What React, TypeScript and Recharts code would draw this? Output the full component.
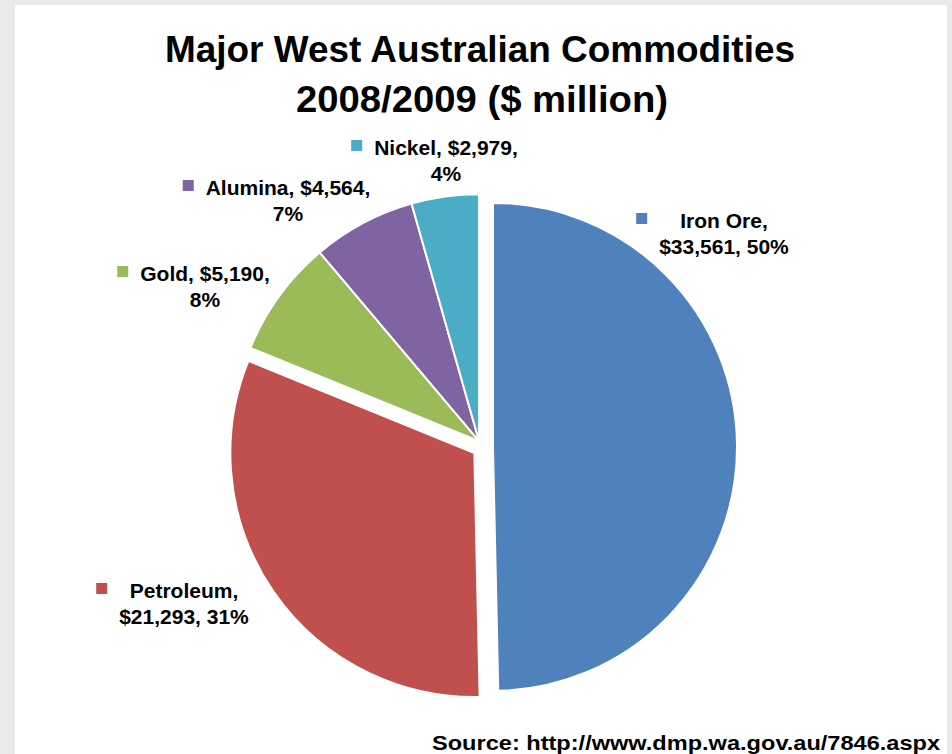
import React from 'react';
import { PieChart, Pie, Cell } from 'recharts';

// ---- data ----
const categories = ['Iron Ore', 'Petroleum', 'Gold', 'Alumina', 'Nickel'];
const values = [33561, 21293, 5190, 4564, 2979];
const percentLabels = ['50%', '31%', '8%', '7%', '4%'];

const titleLines = ['Major West Australian Commodities', '2008/2009 ($ million)'];
const sourceText = 'Source: http://www.dmp.wa.gov.au/7846.aspx';

// ---- style / layout ----
const COLORS = ['#4F81BD', '#C0504D', '#9BBB59', '#8064A2', '#4BACC6'];
const W = 952;
const H = 754;
const BASE_CX = 483;
const BASE_CY = 447;
const FONT = '"Liberation Sans", Arial, sans-serif';
const LABEL_SIZE = 21;
const LINE_GAP = 26;

// explode groups: slice indices, explosion distance, radius
const GROUPS = [
  { members: [0], dist: 10, radius: 244 },
  { members: [1], dist: 10.5, radius: 244 },
  { members: [2, 3, 4], dist: 7, radius: 247 },
];

// label placement (text centre, first baseline) relative to pie centre
const LABEL_POS: Record<string, { dx: number; dy: number; breakAfterName: boolean }> = {
  'Iron Ore': { dx: 241, dy: -219, breakAfterName: true },
  Petroleum: { dx: -299, dy: 151, breakAfterName: true },
  Gold: { dx: -278, dy: -166, breakAfterName: false },
  Alumina: { dx: -195, dy: -252, breakAfterName: false },
  Nickel: { dx: -37, dy: -292, breakAfterName: false },
};

const data = categories.map((name, i) => ({ name, value: values[i], pct: percentLabels[i] }));
const total = values.reduce((a, b) => a + b, 0);

let measureCtx: CanvasRenderingContext2D | null = null;
function measure(text: string, font: string): number {
  if (!measureCtx) {
    const c = document.createElement('canvas');
    measureCtx = c.getContext('2d');
  }
  if (!measureCtx) return text.length * 11;
  measureCtx.font = font;
  return measureCtx.measureText(text).width;
}

function groupCenter(members: number[], dist: number) {
  const before = values.slice(0, members[0]).reduce((a, b) => a + b, 0);
  const span = members.reduce((a, i) => a + values[i], 0);
  const theta = ((before + span / 2) / total) * 2 * Math.PI; // clockwise from top
  return { cx: BASE_CX + dist * Math.sin(theta), cy: BASE_CY - dist * Math.cos(theta) };
}

function labelLines(d: { name: string; value: number; pct: string }): string[] {
  const v = '$' + d.value.toLocaleString('en-US');
  if (LABEL_POS[d.name].breakAfterName) return [`${d.name},`, `${v}, ${d.pct}`];
  return [`${d.name}, ${v},`, d.pct];
}

function makeLabel(members: number[]) {
  return (props: any) => {
    const idx = typeof props.index === 'number' ? props.index : categories.indexOf(props.name);
    if (!members.includes(idx)) return <g key={`empty-${idx}`} />;
    const d = data[idx];
    const pos = LABEL_POS[d.name];
    const x = BASE_CX + pos.dx;
    const y = BASE_CY + pos.dy;
    const lines = labelLines(d);
    const font = `bold ${LABEL_SIZE}px ${FONT}`;
    const maxW = Math.max(...lines.map((l) => measure(l, font)));
    const keyX = x - maxW / 2 - 23;
    return (
      <g key={`lbl-${idx}`}>
        <rect x={keyX} y={y - 15} width={11} height={11} fill={COLORS[idx]} />
        {lines.map((l, k) => (
          <text
            key={k}
            x={x}
            y={y + k * LINE_GAP}
            textAnchor="middle"
            fontFamily={FONT}
            fontWeight="bold"
            fontSize={LABEL_SIZE}
            fill="#000"
          >
            {l}
          </text>
        ))}
      </g>
    );
  };
}

export default function App() {
  return (
    <div style={{ position: 'absolute', left: 0, top: 0, width: W, height: H, background: '#e9e9e9', overflow: 'hidden' }}>
      <div style={{ position: 'absolute', left: 15, top: 5, width: 932, height: H - 5, background: '#ffffff' }} />
      <div style={{ position: 'absolute', left: 0, top: 0 }}>
        <PieChart width={W} height={H} margin={{ top: 0, right: 0, bottom: 0, left: 0 }}>
          {GROUPS.map((g, gi) => {
            const c = groupCenter(g.members, g.dist);
            return (
              <Pie
                key={gi}
                data={data}
                dataKey="value"
                nameKey="name"
                cx={c.cx}
                cy={c.cy}
                innerRadius={0}
                outerRadius={g.radius}
                startAngle={90}
                endAngle={-270}
                isAnimationActive={false}
                labelLine={false}
                label={makeLabel(g.members)}
              >
                {data.map((d, i) => {
                  const on = g.members.includes(i);
                  return (
                    <Cell
                      key={d.name}
                      fill={on ? COLORS[i] : 'none'}
                      stroke={on ? '#ffffff' : 'none'}
                      strokeWidth={on ? 2 : 0}
                    />
                  );
                })}
              </Pie>
            );
          })}
        </PieChart>
      </div>
      <svg width={W} height={H} style={{ position: 'absolute', left: 0, top: 0, pointerEvents: 'none' }}>
        <text x={480} y={62} textAnchor="middle" fontFamily={FONT} fontWeight="bold" fontSize={36} textLength={630} lengthAdjust="spacingAndGlyphs" fill="#000">
          {titleLines[0]}
        </text>
        <text x={482} y={112} textAnchor="middle" fontFamily={FONT} fontWeight="bold" fontSize={36} textLength={372} lengthAdjust="spacingAndGlyphs" fill="#000">
          {titleLines[1]}
        </text>
        <text x={432} y={750} fontFamily={FONT} fontWeight="bold" fontSize={21} textLength={508} lengthAdjust="spacingAndGlyphs" fill="#000">
          {sourceText}
        </text>
      </svg>
    </div>
  );
}
